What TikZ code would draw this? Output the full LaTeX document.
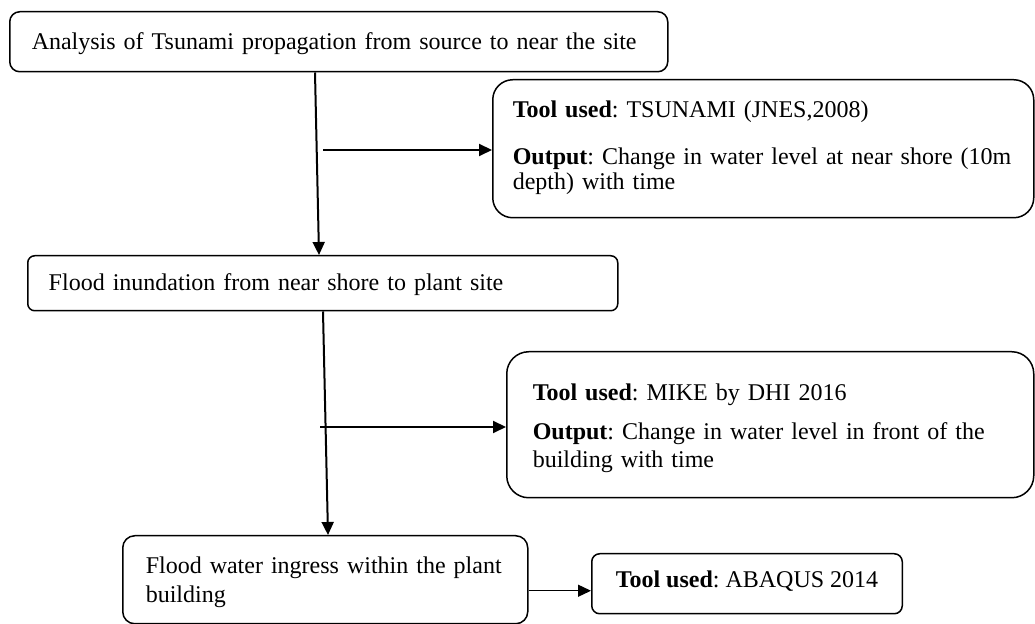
\documentclass[tikz,border=0pt]{standalone}
\usepackage{fontspec}
\setmainfont{Liberation Serif}
\usetikzlibrary{arrows.meta}
\tikzstyle{flow-box}=[draw=black,line width=0.75pt,anchor=north west,align=left,inner ysep=0pt,font=\fontsize{12}{14}\selectfont\frenchspacing]
\tikzstyle{black-line}=[draw=black,line width=1pt]
\tikzstyle{thin-line}=[draw=black,line width=0.65pt]

\begin{document}
\begin{tikzpicture}[x=0.5pt,y=-0.5pt]
    \useasboundingbox (0,0) rectangle (1035,624);
        \begin{scope}
            \node (prop)[flow-box, rounded corners=5pt, inner xsep=11pt, text width=307pt, text height=19pt, text depth=11pt] at (9,11) {Analysis of Tsunami propagation from source to near the site};
            \node (tsunami)[flow-box, rounded corners=10pt, inner xsep=10pt, text width=250.5pt, text height=19pt, text depth=50pt] at (492,79) {\textbf{Tool used}: TSUNAMI (JNES,2008)\\[9.5pt]\mbox{\textbf{Output}: Change in water level at near shore (10m}\\[-1.5pt]depth) with time};
            \node (flood)[flow-box, rounded corners=3.5pt, inner xsep=10.5pt, text width=274pt, text height=17.5pt, text depth=10pt] at (27,255) {Flood inundation from near shore to plant site};
            \node (mike)[flow-box, rounded corners=11pt, inner xsep=13pt, text width=237.5pt, text height=24.5pt, text depth=48.5pt] at (506,351) {\textbf{Tool used}: MIKE by DHI 2016\\[5.5pt]\textbf{Output}: Change in water level in front of the\\building with time};
            \node (ingress)[flow-box, rounded corners=6pt, inner xsep=11.5pt, text width=179.5pt, text height=19pt, text depth=25pt] at (122,535) {Flood water ingress within the plant\\[0.5pt]building};
            \node (abaqus)[flow-box, rounded corners=4pt, inner xsep=12pt, text height=17pt, text depth=13pt] at (591,553) {\textbf{Tool used}: ABAQUS 2014};
            \coordinate (b-start) at (323,150);
            \coordinate (d-start) at (320,427);
            \coordinate (e-start) at ([shift={(0,11)}]ingress.east);
        \end{scope}

        \begin{scope}[>={Triangle[length=6.5pt,width=6pt]}, every edge/.style=black-line]
            \path [->] ([shift={(306,0)}]prop.south west) edge ([shift={(292,0)}]flood.north west);
            \path [->] (b-start) edge (b-start -| tsunami.west);
            \path [->] ([shift={(296,0)}]flood.south west) edge ([shift={(206,0)}]ingress.north west);
            \path [->] (d-start) edge (d-start -| mike.west);
            \path [->, every edge/.style=thin-line] (e-start) edge (e-start -| abaqus.west);
        \end{scope}

    \end{tikzpicture}
\end{document}
